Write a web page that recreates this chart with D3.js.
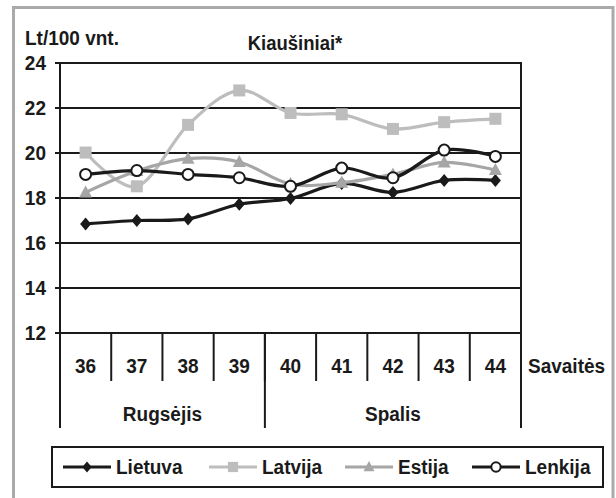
<!DOCTYPE html>
<html>
<head>
<meta charset="utf-8">
<script src="https://cdn.jsdelivr.net/npm/d3@7"></script>
<style>
  html, body { margin: 0; padding: 0; background: #fff; }
  svg { display: block; }
  text { font-family: "Liberation Sans", Arial, sans-serif; font-weight: bold; fill: #1a1a1a; }
</style>
</head>
<body>
<script>
// ---- data ----
const weeks = ["36", "37", "38", "39", "40", "41", "42", "43", "44"];
const months = ["Rugsėjis", "Spalis"];
const monthWeekCounts = [4, 5];
const yTicks = [12, 14, 16, 18, 20, 22, 24];
const seriesNames = ["Lietuva", "Latvija", "Estija", "Lenkija"];
const lietuva = [16.85, 17.0, 17.07, 17.72, 17.98, 18.65, 18.25, 18.78, 18.78];
const latvija = [20.02, 18.52, 21.25, 22.78, 21.78, 21.72, 21.07, 21.37, 21.52];
const estija  = [18.25, 19.2, 19.75, 19.6, 18.62, 18.68, 19.05, 19.58, 19.24];
const lenkija = [19.05, 19.22, 19.05, 18.9, 18.52, 19.33, 18.9, 20.13, 19.85];
const unitLabel = "Lt/100 vnt.";
const title = "Kiaušiniai*";
const xAxisLabel = "Savaitės";

(function () {
const W = 616, H = 498;
const SY = 1.08; // slight vertical stretch of the text, as in the reference
const tr = (px, py) => `translate(${px},${py}) scale(1,${SY})`;
const svg = d3.select("body").append("svg").attr("width", W).attr("height", H);

// outer gray frame
svg.append("rect").attr("x", 13.5).attr("y", 7.5).attr("width", 599.5).attr("height", 500)
  .attr("fill", "#fff").attr("stroke", "#aaaaaa").attr("stroke-width", 3);

const pL = 60, pR = 521, pT = 63, pB = 333;
const x = d3.scaleBand().domain(weeks).range([pL, pR]);
const y = d3.scaleLinear().domain([12, 24]).range([pB, pT]);

// gridlines
svg.append("g").selectAll("line").data(yTicks).join("line")
  .attr("x1", pL - 5).attr("x2", pR)
  .attr("y1", d => y(d)).attr("y2", d => y(d))
  .attr("stroke", "#1a1a1a").attr("stroke-width", 2);

// y axis labels
svg.append("g").selectAll("text").data(yTicks).join("text")
  .attr("transform", d => tr(46, y(d) + 7))
  .attr("text-anchor", "end").attr("font-size", 19)
  .text(d => d);

// plot frame verticals
svg.append("line").attr("x1", pL).attr("x2", pL).attr("y1", pT - 1).attr("y2", pB)
  .attr("stroke", "#1a1a1a").attr("stroke-width", 2);
svg.append("line").attr("x1", pR).attr("x2", pR).attr("y1", pT - 1).attr("y2", pB)
  .attr("stroke", "#1a1a1a").attr("stroke-width", 2);

// week separators below axis
const boundaries = weeks.map(w => x(w)).concat([pR]);
svg.append("g").selectAll("line").data(boundaries).join("line")
  .attr("x1", d => d).attr("x2", d => d)
  .attr("y1", pB).attr("y2", 381)
  .attr("stroke", "#1a1a1a").attr("stroke-width", 2);

// month separators
let idx = 0;
const monthBounds = [x(weeks[0])];
const monthCenters = [];
monthWeekCounts.forEach(c => {
  const a = x(weeks[idx]);
  idx += c;
  const b = idx < weeks.length ? x(weeks[idx]) : pR;
  monthBounds.push(b);
  monthCenters.push((a + b) / 2);
});
svg.append("g").selectAll("line").data(monthBounds).join("line")
  .attr("x1", d => d).attr("x2", d => d)
  .attr("y1", pB).attr("y2", 428)
  .attr("stroke", "#1a1a1a").attr("stroke-width", 2);

// week labels
svg.append("g").selectAll("text").data(weeks).join("text")
  .attr("transform", d => tr(x(d) + x.bandwidth() / 2, 373))
  .attr("text-anchor", "middle").attr("font-size", 19)
  .text(d => d);

// month labels
svg.append("g").selectAll("text").data(months).join("text")
  .attr("transform", (d, i) => tr(monthCenters[i], 421))
  .attr("text-anchor", "middle").attr("font-size", 19)
  .text(d => d);

svg.append("text").attr("transform", tr(528, 373)).attr("font-size", 19).text(xAxisLabel);
svg.append("text").attr("transform", tr(25, 45)).attr("font-size", 19).text(unitLabel);
svg.append("text").attr("transform", tr(295, 50)).attr("text-anchor", "middle").attr("font-size", 18.5).text(title);

// series
const styles = [
  { name: seriesNames[0], values: lietuva, color: "#1a1a1a", marker: "diamond" },
  { name: seriesNames[1], values: latvija, color: "#bdbdbd", marker: "square" },
  { name: seriesNames[2], values: estija,  color: "#a6a6a6", marker: "triangle" },
  { name: seriesNames[3], values: lenkija, color: "#1a1a1a", marker: "circle" }
];
const cx = i => x(weeks[i]) + x.bandwidth() / 2;
const line = d3.line().x((d, i) => cx(i)).y(d => y(d)).curve(d3.curveCatmullRom.alpha(0));

function drawMarker(g, type, px, py, color, scale) {
  const s = scale || 1;
  if (type === "diamond") {
    g.append("path").attr("d", `M${px},${py - 6.5 * s}L${px + 5.5 * s},${py}L${px},${py + 6.5 * s}L${px - 5.5 * s},${py}Z`)
      .attr("fill", color);
  } else if (type === "square") {
    g.append("rect").attr("x", px - 6 * s).attr("y", py - 6 * s).attr("width", 12 * s).attr("height", 12 * s)
      .attr("fill", color);
  } else if (type === "triangle") {
    g.append("path").attr("d", `M${px},${py - 7 * s}L${px + 6.5 * s},${py + 5 * s}L${px - 6.5 * s},${py + 5 * s}Z`)
      .attr("fill", color);
  } else {
    g.append("circle").attr("cx", px).attr("cy", py).attr("r", 5.5 * s)
      .attr("fill", "#fff").attr("stroke", color).attr("stroke-width", 2);
  }
}

styles.forEach(s => {
  const g = svg.append("g");
  g.append("path").attr("d", line(s.values)).attr("fill", "none")
    .attr("stroke", s.color).attr("stroke-width", 3.2).attr("stroke-linejoin", "round");
  s.values.forEach((v, i) => drawMarker(g, s.marker, cx(i), y(v), s.color));
});

// legend
svg.append("rect").attr("x", 52).attr("y", 447).attr("width", 551).attr("height", 40)
  .attr("fill", "#fff").attr("stroke", "#1a1a1a").attr("stroke-width", 2);
const legendX = [63, 209, 345, 472];
styles.forEach((s, i) => {
  const g = svg.append("g");
  const x0 = legendX[i], ly = 467;
  g.append("line").attr("x1", x0).attr("x2", x0 + 48).attr("y1", ly).attr("y2", ly)
    .attr("stroke", s.color).attr("stroke-width", 3.2);
  drawMarker(g, s.marker, x0 + 24, ly, s.color, 0.85);
  g.append("text").attr("transform", tr(x0 + 53, 474)).attr("font-size", 19).text(s.name);
});
})();
</script>
</body>
</html>
